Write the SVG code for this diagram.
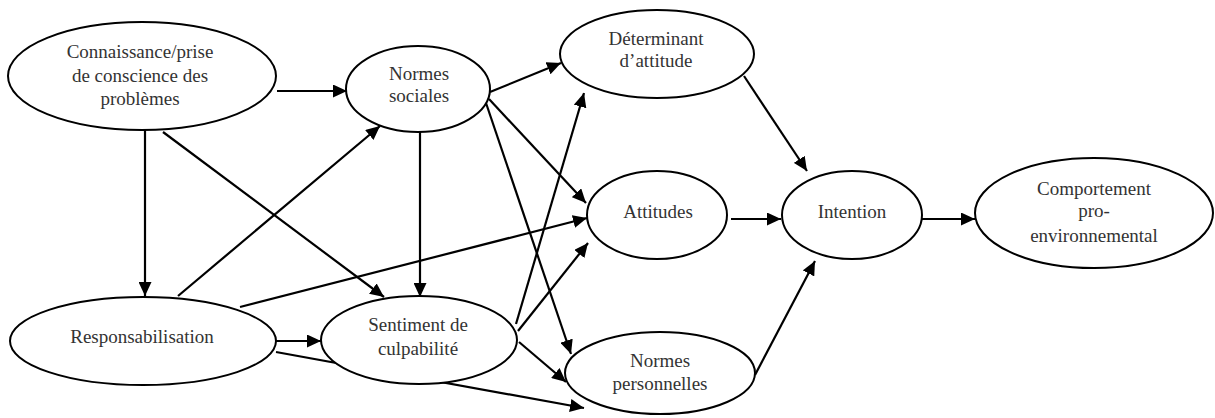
<svg xmlns="http://www.w3.org/2000/svg" width="1215" height="418" viewBox="0 0 1215 418">
<style>
.node ellipse{fill:#fff;stroke:#000;stroke-width:2}
.node text{font-family:"Liberation Serif","Times New Roman",serif;font-size:19px;fill:#333;text-anchor:middle}
.edges line{stroke:#000;stroke-width:2.2;marker-end:url(#ah)}
</style>
<defs>
<marker id="ah" markerUnits="userSpaceOnUse" markerWidth="15" markerHeight="13" refX="14" refY="6.5" orient="auto">
<path d="M0,0 L14,6.5 L0,13 z" fill="#000"/>
</marker>
</defs>
<rect width="1215" height="418" fill="#fff"/>
<g class="edges" id="connectors">
<line x1="277" y1="91" x2="347" y2="91"/>
<line x1="145" y1="130" x2="145" y2="296"/>
<line x1="163" y1="132" x2="384" y2="297"/>
<line x1="178" y1="296" x2="380" y2="126"/>
<line x1="240" y1="307" x2="587" y2="218"/>
<line x1="276" y1="341" x2="321" y2="341"/>
<line x1="276" y1="352" x2="584" y2="408"/>
<line x1="490" y1="92" x2="561" y2="63"/>
<line x1="420" y1="132" x2="420" y2="297"/>
<line x1="489" y1="99" x2="586" y2="203"/>
<line x1="486" y1="103" x2="571" y2="354"/>
<line x1="516" y1="324" x2="584" y2="93"/>
<line x1="518" y1="331" x2="588" y2="243"/>
<line x1="519" y1="342" x2="566" y2="382"/>
<line x1="744" y1="76" x2="807" y2="171"/>
<line x1="731" y1="219" x2="781" y2="219"/>
<line x1="755" y1="375" x2="815" y2="261"/>
<line x1="922" y1="219" x2="975" y2="219"/>
</g>
<g class="node" id="connaissance">
<ellipse cx="142" cy="76" rx="134" ry="54"/>
<text x="140" y="58">Connaissance/prise</text>
<text x="140" y="82">de conscience des</text>
<text x="140" y="105">problèmes</text>
</g>
<g class="node" id="normes-sociales">
<ellipse cx="418" cy="89" rx="72" ry="43"/>
<text x="419" y="80">Normes</text>
<text x="419" y="102">sociales</text>
</g>
<g class="node" id="determinant">
<ellipse cx="657" cy="54" rx="97" ry="44"/>
<text x="656" y="45">Déterminant</text>
<text x="656" y="67">d’attitude</text>
</g>
<g class="node" id="responsabilisation">
<ellipse cx="143" cy="341" rx="133" ry="44"/>
<text x="142" y="343">Responsabilisation</text>
</g>
<g class="node" id="sentiment">
<ellipse cx="419" cy="340" rx="98" ry="44"/>
<text x="418" y="331">Sentiment de</text>
<text x="418" y="355">culpabilité</text>
</g>
<g class="node" id="normes-personnelles">
<ellipse cx="660" cy="373" rx="95" ry="41"/>
<text x="660" y="367">Normes</text>
<text x="660" y="390">personnelles</text>
</g>
<g class="node" id="attitudes">
<ellipse cx="657" cy="215" rx="70" ry="44"/>
<text x="658" y="218">Attitudes</text>
</g>
<g class="node" id="intention">
<ellipse cx="852" cy="215" rx="70" ry="44"/>
<text x="852" y="218">Intention</text>
</g>
<g class="node" id="comportement">
<ellipse cx="1094" cy="213" rx="119" ry="55"/>
<text x="1094" y="195">Comportement</text>
<text x="1094" y="217">pro-</text>
<text x="1094" y="242">environnemental</text>
</g>
</svg>
